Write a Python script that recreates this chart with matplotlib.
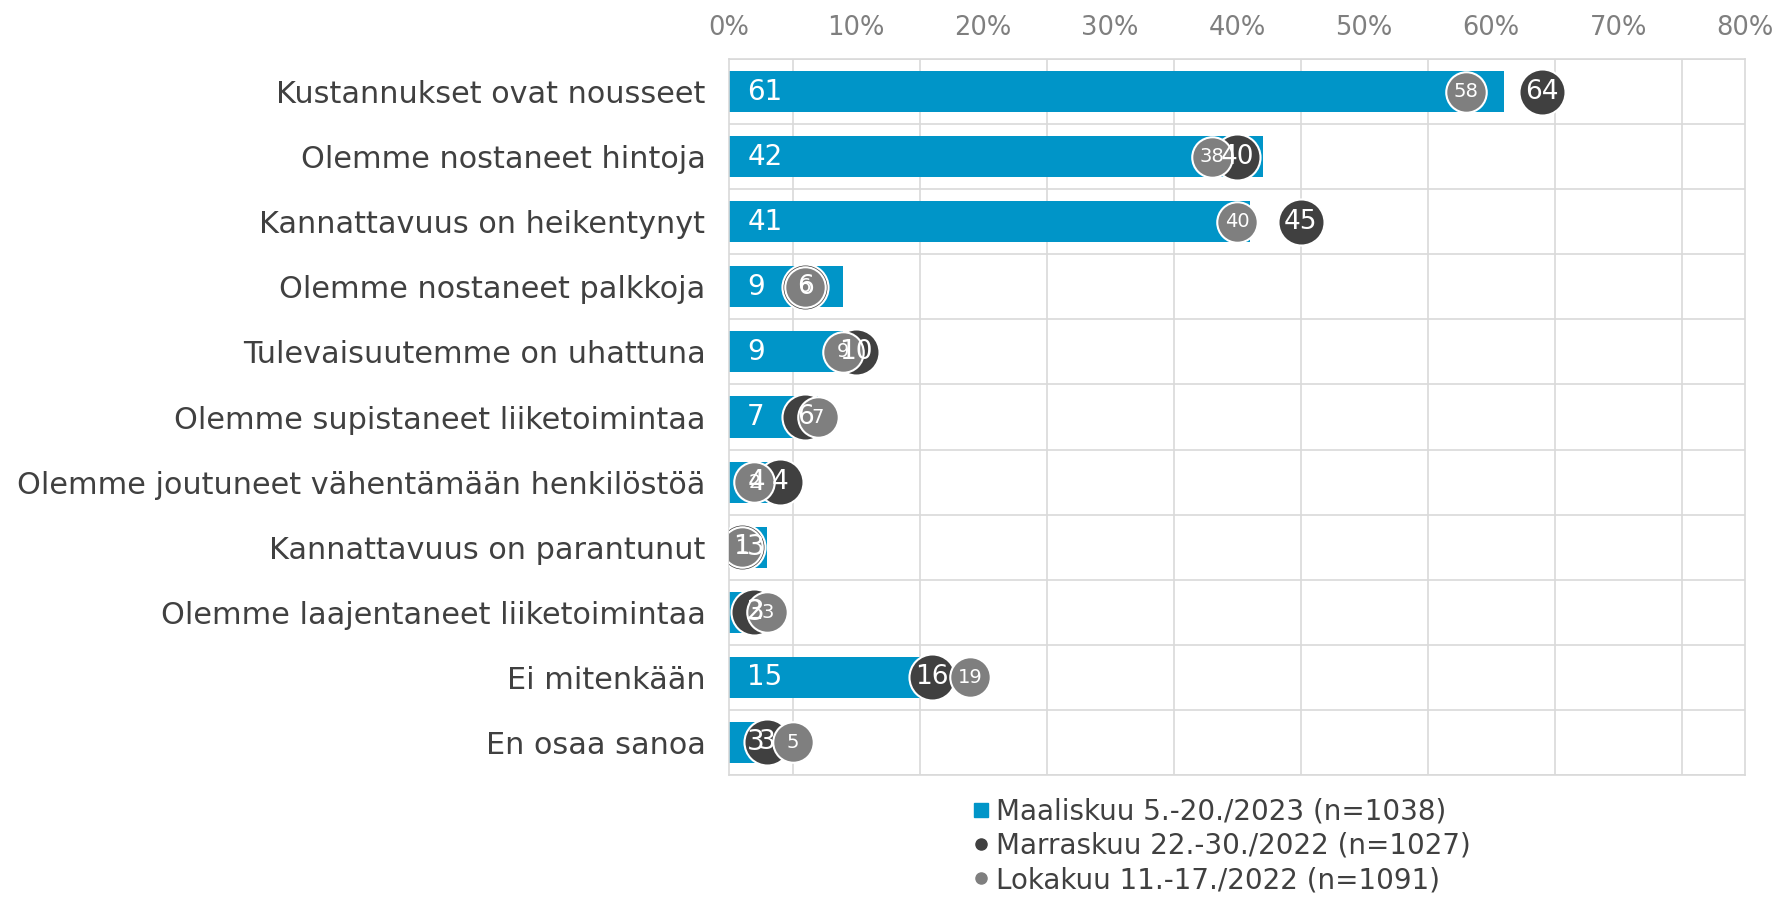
import numpy as np
import matplotlib
matplotlib.use("Agg")
import matplotlib.pyplot as plt
from matplotlib.lines import Line2D

# data (percent)
categories = [
    "Kustannukset ovat nousseet",
    "Olemme nostaneet hintoja",
    "Kannattavuus on heikentynyt",
    "Olemme nostaneet palkkoja",
    "Tulevaisuutemme on uhattuna",
    "Olemme supistaneet liiketoimintaa",
    "Olemme joutuneet vähentämään henkilöstöä",
    "Kannattavuus on parantunut",
    "Olemme laajentaneet liiketoimintaa",
    "Ei mitenkään",
    "En osaa sanoa",
]
mar_2023 = [61, 42, 41, 9, 9, 7, 4, 3, 3, 15, 3]
nov_2022 = [64, 40, 45, 6, 10, 6, 4, 1, 2, 16, 3]
oct_2022 = [58, 38, 40, 6, 9, 7, 2, 1, 3, 19, 5]
legend_labels = [
    "Maaliskuu 5.-20./2023 (n=1038)",
    "Marraskuu 22.-30./2022 (n=1027)",
    "Lokakuu 11.-17./2022 (n=1091)",
]
xticks = list(range(0, 81, 10))

BLUE = "#0095c8"
DARK = "#404040"
GRAY = "#7f7f7f"
GRID = "#d9d9d9"
TXT = "#404040"

fig = plt.figure(figsize=(17.8, 8.99), dpi=100)
ax = fig.add_axes([0.4096, 0.1379, 0.5708, 0.7965])

y = np.arange(len(categories))
ax.barh(y, mar_2023, height=0.63, color=BLUE, zorder=2)
ax.scatter(nov_2022, y, s=1100, color=DARK, edgecolors="white", linewidths=1.5, zorder=3)
ax.scatter(oct_2022, y, s=850, color=GRAY, edgecolors="white", linewidths=1.5, zorder=4)

for yi, v in zip(y, mar_2023):
    ax.annotate(str(v), (0, yi), xytext=(13, 0), textcoords="offset points",
                ha="left", va="center", color="white", fontsize=20, zorder=6)
for yi, v in zip(y, nov_2022):
    ax.text(v, yi, str(v), ha="center", va="center", color="white", fontsize=19, zorder=6)
for yi, v in zip(y, oct_2022):
    ax.text(v, yi, str(v), ha="center", va="center", color="white", fontsize=14, zorder=6)

ax.set_xlim(0, 80)
ax.set_ylim(len(categories) - 0.5, -0.5)
ax.xaxis.tick_top()
ax.set_xticks(xticks)
ax.set_xticklabels([f"{t}%" for t in xticks], color=GRAY, fontsize=18.5)
ax.set_xticks(np.arange(0, 81, 5), minor=True)
ax.set_yticks(y)
ax.set_yticklabels(categories, color=TXT, fontsize=21.8)
ax.set_yticks(np.arange(-0.5, len(categories), 1), minor=True)
ax.tick_params(axis="x", which="both", length=0, pad=13)
ax.tick_params(axis="y", which="both", length=0, pad=17)
ax.grid(which="minor", color=GRID, linewidth=1.2, zorder=0)
ax.set_axisbelow(True)
for s in ax.spines.values():
    s.set_color(GRID)
    s.set_linewidth(1.2)

handles = [
    Line2D([], [], marker="s", color=BLUE, linestyle="none", markersize=10),
    Line2D([], [], marker="o", color=DARK, linestyle="none", markersize=8),
    Line2D([], [], marker="o", color=GRAY, linestyle="none", markersize=8),
]
fig.legend(handles, legend_labels, loc="upper left", bbox_to_anchor=(0.539, 0.128),
           frameon=False, fontsize=20, labelcolor=TXT, handlelength=0.55,
           handletextpad=0.25, labelspacing=0.22, borderpad=0)

fig.savefig("out.png", dpi=100)
